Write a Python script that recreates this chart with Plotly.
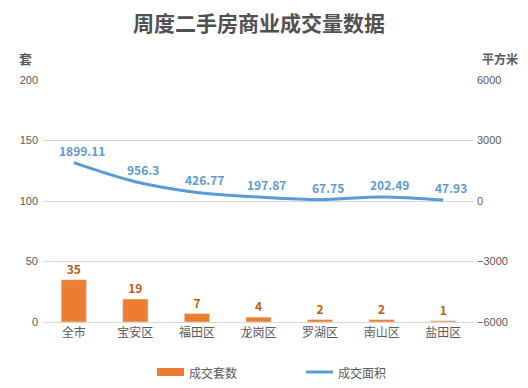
import plotly.graph_objects as go

categories = ["全市", "宝安区", "福田区", "龙岗区", "罗湖区", "南山区", "盐田区"]
units = [35, 19, 7, 4, 2, 2, 1]
area = [1899.11, 956.3, 426.77, 197.87, 67.75, 202.49, 47.93]
left_ticks = [0, 50, 100, 150, 200]
right_ticks = [-6000, -3000, 0, 3000, 6000]

FONT = "Noto Sans CJK SC"
OFF = 8  # page body margin
W, H = 528 - 2 * OFF, 388 - 2 * OFF
L, T = 43 - OFF, 80 - OFF
R = W - (474 - OFF)
B = H - (322 - OFF)
pw, ph = W - L - R, H - T - B


def px(x):
    return (x - OFF - L) / pw


def py(y):
    return (T + ph - (y - OFF)) / ph


fig = go.Figure()
fig.add_trace(go.Bar(
    x=categories, y=units, name="成交套数", marker_color="#ED7D31",
    text=[str(v) for v in units], textposition="outside", cliponaxis=False,
    textfont=dict(color="#C55A11", size=12, family=FONT, weight="bold"),
    width=0.41, showlegend=False,
))
fig.add_trace(go.Scatter(
    x=categories, y=area, name="成交面积", yaxis="y2", mode="lines",
    line=dict(color="#5B9BD5", width=3, shape="spline", smoothing=1.0),
    cliponaxis=False, showlegend=False,
))

annotations = [
    dict(x=c, y=v, xref="x", yref="y2", text=f"<b>{v:g}</b>", showarrow=False,
         xanchor="center", yanchor="bottom", xshift=8, yshift=2,
         font=dict(color="#5B9BD5", size=12, family=FONT))
    for c, v in zip(categories, area)
]
annotations += [
    dict(text="<b>套</b>", x=px(25), y=py(58), xref="paper", yref="paper", showarrow=False,
         xanchor="center", yanchor="middle",
         font=dict(size=13, color="#595959", family=FONT)),
    dict(text="<b>平方米</b>", x=px(500), y=py(58), xref="paper", yref="paper", showarrow=False,
         xanchor="center", yanchor="middle",
         font=dict(size=12, color="#595959", family=FONT)),
    dict(text="成交套数", x=px(187), y=py(372), xref="paper", yref="paper", showarrow=False,
         xanchor="left", yanchor="middle", font=dict(size=12, color="#595959", family=FONT)),
    dict(text="成交面积", x=px(336), y=py(372), xref="paper", yref="paper", showarrow=False,
         xanchor="left", yanchor="middle", font=dict(size=12, color="#595959", family=FONT)),
]

fig.update_layout(
    width=W, height=H,
    margin=dict(l=L, r=R, t=T, b=B, autoexpand=False),
    paper_bgcolor="white", plot_bgcolor="white",
    font=dict(family=FONT, color="#595959", size=11),
    title=dict(text="<b>周度二手房商业成交量数据</b>", x=px(259), xref="paper", xanchor="center",
               y=1 - (24 - OFF) / H, yanchor="middle",
               font=dict(size=21, color="#505050", family=FONT)),
    xaxis=dict(showgrid=False, showline=True, linecolor="#D9D9D9", ticks="", automargin=False,
               tickfont=dict(size=12, color="#595959")),
    yaxis=dict(range=[0, 200], tickvals=left_ticks, showgrid=True, gridcolor="#D9D9D9",
               zeroline=False, ticks="", automargin=False, ticklabelstandoff=4,
               tickfont=dict(size=11, color="#595959", family="Liberation Sans")),
    yaxis2=dict(range=[-6000, 6000], tickvals=right_ticks, overlaying="y", side="right",
                showgrid=False, zeroline=False, ticks="", automargin=False, ticklabelstandoff=2,
                tickfont=dict(size=11, color="#595959", family="Liberation Sans")),
    showlegend=False,
    annotations=annotations,
    shapes=[
        dict(type="rect", xref="paper", yref="paper", x0=px(157), x1=px(184), y0=py(368), y1=py(376),
             fillcolor="#ED7D31", line=dict(width=0)),
        dict(type="line", xref="paper", yref="paper", x0=px(306), x1=px(333), y0=py(372), y1=py(372),
             line=dict(color="#5B9BD5", width=3)),
    ],
)
fig.write_html("out.html")
